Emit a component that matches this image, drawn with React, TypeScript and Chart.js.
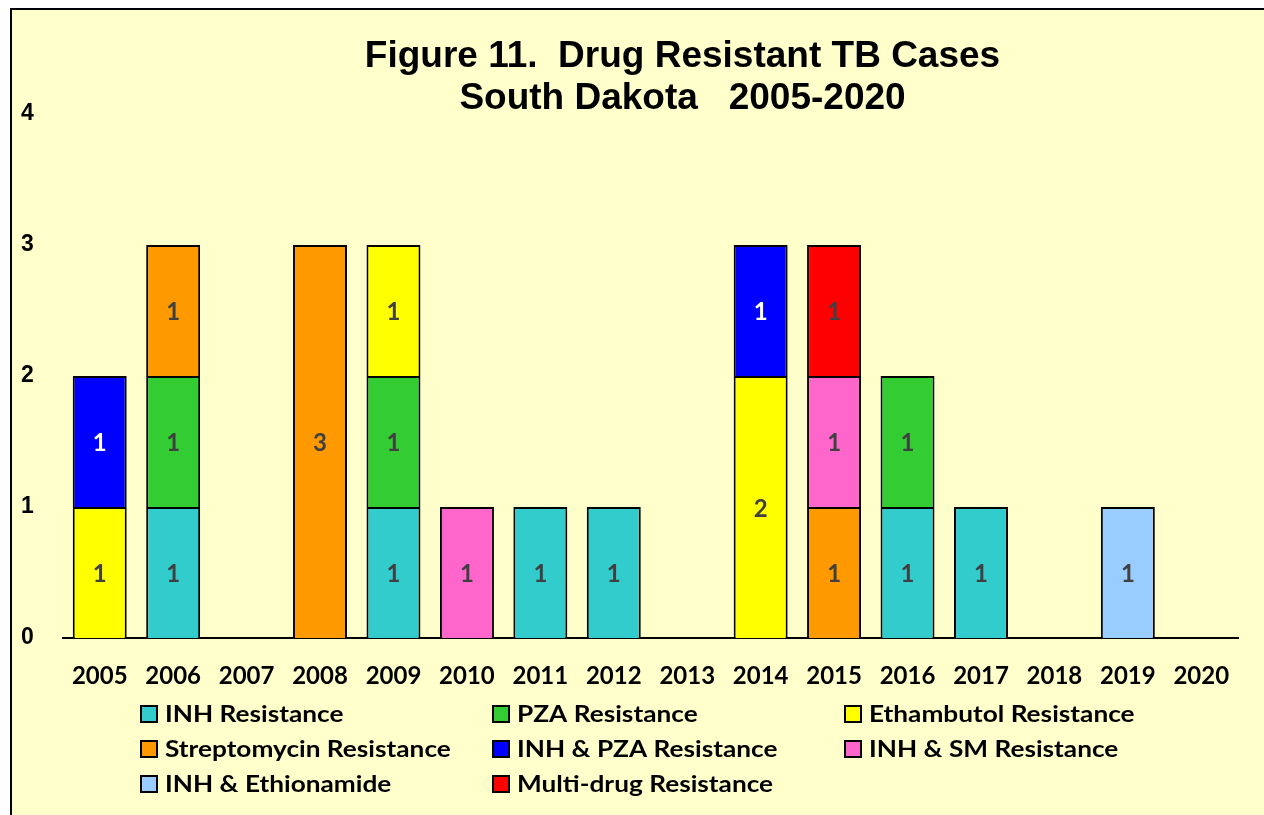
import React, { useEffect, useRef } from "react";
import { Chart, registerables } from "chart.js";

Chart.register(...registerables);

const years = ["2005","2006","2007","2008","2009","2010","2011","2012","2013","2014","2015","2016","2017","2018","2019","2020"];

const inhResistance      = [0,1,0,0,1,0,1,1,0,0,0,1,1,0,0,0];
const pzaResistance      = [0,1,0,0,1,0,0,0,0,0,0,1,0,0,0,0];
const ethambutolRes      = [1,0,0,0,1,0,0,0,0,2,0,0,0,0,0,0];
const streptomycinRes    = [0,1,0,3,0,0,0,0,0,0,1,0,0,0,0,0];
const inhPzaRes          = [1,0,0,0,0,0,0,0,0,1,0,0,0,0,0,0];
const inhSmRes           = [0,0,0,0,0,1,0,0,0,0,1,0,0,0,0,0];
const inhEthionamide     = [0,0,0,0,0,0,0,0,0,0,0,0,0,0,1,0];
const multiDrugRes       = [0,0,0,0,0,0,0,0,0,0,1,0,0,0,0,0];

const seriesNames = [
  "INH Resistance", "PZA Resistance", "Ethambutol Resistance",
  "Streptomycin Resistance", "INH & PZA Resistance", "INH & SM Resistance",
  "INH & Ethionamide", "Multi-drug Resistance",
];
const seriesValues = [inhResistance, pzaResistance, ethambutolRes, streptomycinRes, inhPzaRes, inhSmRes, inhEthionamide, multiDrugRes];
const seriesColors = ["#33CCCC", "#33CC33", "#FFFF00", "#FF9900", "#0000FF", "#FF66CC", "#99CCFF", "#FF0000"];
const labelColors  = ["#404040", "#404040", "#404040", "#404040", "#FFFFFF", "#404040", "#404040", "#404040"];

const yTicks = [0, 1, 2, 3, 4];
const titleLines = ["Figure 11.  Drug Resistant TB Cases", "South Dakota   2005-2020"];

const CAL = "Lato, 'Open Sans', sans-serif";
const ARI = "'Liberation Sans', Arial, sans-serif";

const titlePlugin = {
  id: "customTitle",
  afterDraw(chart: any) {
    const { ctx, chartArea } = chart;
    const cx = (chartArea.left + chartArea.right) / 2 + 32;
    ctx.save();
    ctx.fillStyle = "#000";
    ctx.font = `bold 37px ${ARI}`;
    ctx.textAlign = "center";
    ctx.textBaseline = "alphabetic";
    ctx.fillText(titleLines[0], cx, 57);
    ctx.fillText(titleLines[1], cx, 99);
    ctx.restore();
  },
};

const barLabelPlugin = {
  id: "barLabels",
  afterDatasetsDraw(chart: any) {
    const { ctx } = chart;
    ctx.save();
    ctx.font = `bold 24px ${CAL}`;
    ctx.textAlign = "center";
    ctx.textBaseline = "middle";
    chart.data.datasets.forEach((ds: any, di: number) => {
      const meta = chart.getDatasetMeta(di);
      meta.data.forEach((bar: any, i: number) => {
        const v = ds.data[i];
        if (!v) return;
        const { x, y, base } = bar.getProps(["x", "y", "base"], true);
        ctx.fillStyle = labelColors[di];
        ctx.fillText(String(v), x, (y + base) / 2 + 2);
      });
    });
    ctx.restore();
  },
};

const legendPlugin = {
  id: "gridLegend",
  afterDraw(chart: any) {
    const { ctx, chartArea } = chart;
    ctx.save();
    ctx.font = `bold 23px ${CAL}`;
    ctx.textAlign = "left";
    ctx.textBaseline = "middle";
    seriesNames.forEach((name, i) => {
      const col = i % 3;
      const row = Math.floor(i / 3);
      const bx = chartArea.left + 78 + col * 352;
      const cy = chartArea.bottom + 76 + row * 35;
      ctx.fillStyle = seriesColors[i];
      ctx.fillRect(bx, cy - 8, 16, 16);
      ctx.lineWidth = 2;
      ctx.strokeStyle = "#000";
      ctx.strokeRect(bx, cy - 8, 16, 16);
      ctx.fillStyle = "#000";
      ctx.save();
      ctx.translate(bx + 24, cy + 1);
      ctx.scale(1.14, 1);
      ctx.fillText(name, 0, 0);
      ctx.restore();
    });
    ctx.restore();
  },
};

export default function App() {
  const ref = useRef<HTMLCanvasElement | null>(null);
  useEffect(() => {
    if (!ref.current) return;
    const chart = new Chart(ref.current, {
      type: "bar",
      data: {
        labels: years,
        datasets: seriesNames.map((name, i) => ({
          label: name,
          data: seriesValues[i],
          backgroundColor: seriesColors[i],
          borderColor: "#000",
          borderWidth: 2,
          barPercentage: 0.735,
          categoryPercentage: 1,
        })),
      },
      options: {
        animation: false,
        responsive: false,
        maintainAspectRatio: false,
        layout: { padding: { top: 104, left: 9, right: 26, bottom: 0 } },
        plugins: {
          legend: { display: false },
          title: { display: false },
          tooltip: { enabled: false },
        },
        scales: {
          x: {
            stacked: true,
            grid: { display: false, drawTicks: false },
            border: { display: true, color: "#000", width: 2 },
            ticks: { color: "#000", font: { family: CAL, size: 24, weight: "bold" }, padding: 24, maxRotation: 0, autoSkip: false },
            afterFit(scale: any) { scale.height = 177; },
          },
          y: {
            stacked: true,
            min: 0,
            max: 4,
            grid: { display: false, drawTicks: false },
            border: { display: false },
            afterBuildTicks(scale: any) { scale.ticks = yTicks.map((v) => ({ value: v })); },
            ticks: { color: "#000", crossAlign: "far", font: { family: ARI, size: 23, weight: "bold" } },
            afterFit(scale: any) { scale.width = 42; },
          },
        },
      },
      plugins: [titlePlugin, barLabelPlugin, legendPlugin],
    });
    return () => chart.destroy();
  }, []);

  return (
    <div style={{ position: "fixed", left: 10, top: 8, width: 1300, height: 850, borderLeft: "2px solid #000", borderTop: "2px solid #000", background: "#FFFFCC", boxSizing: "border-box", overflow: "hidden" }}>
      <canvas ref={ref} width={1252} height={805} style={{ display: "block" }} />
    </div>
  );
}
